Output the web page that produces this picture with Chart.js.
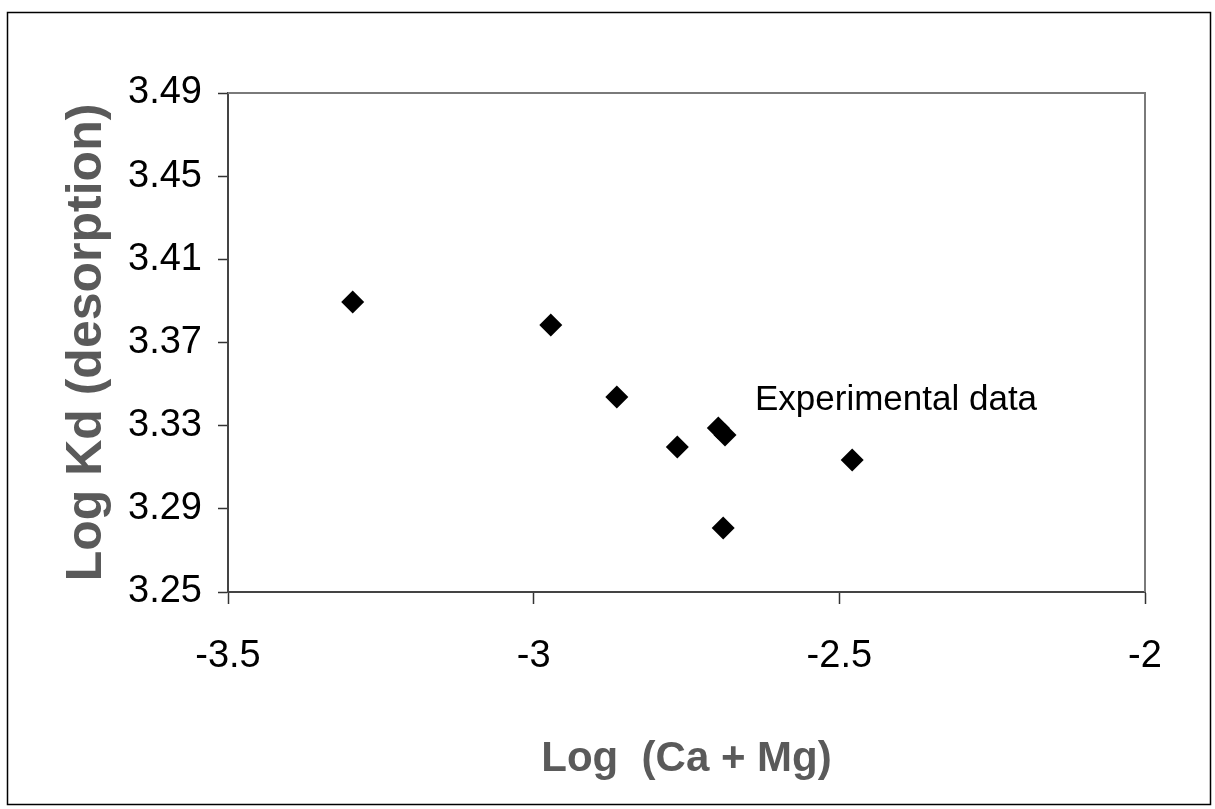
<!DOCTYPE html>
<html>
<head>
<meta charset="utf-8">
<script src="https://cdn.jsdelivr.net/npm/chart.js@4/dist/chart.umd.min.js"></script>
<style>
  html, body { margin: 0; padding: 0; background: #fff; }
  #wrap { width: 1215px; height: 809px; }
</style>
</head>
<body>
<div id="wrap"><canvas id="kdChart" width="1215" height="809"></canvas></div>
<script>
/* --------------- Data --------------------- */
const logCaMg = [-3.296, -2.972, -2.864, -2.765, -2.698, -2.687, -2.690, -2.479];
const logKd = [3.3895, 3.3784, 3.3438, 3.3197, 3.3289, 3.3255, 3.2808, 3.3135];

/* --------------- Axes / ticks --------------------- */
const xTicks = [-3.5, -3, -2.5, -2];
const yTicks = [3.25, 3.29, 3.33, 3.37, 3.41, 3.45, 3.49];
const xTitle = "Log  (Ca + Mg)";
const yTitle = "Log Kd (desorption)";
const noteText = "Experimental data";
const notePos = { x: -2.638, y: 3.342 };

const titleGray = "#5a5a5a";

// outer frame + top/right edge of plot + the note
const framePlugin = {
  id: "frame",
  beforeDraw(chart) {
    const ctx = chart.ctx;
    ctx.save();
    ctx.fillStyle = "#fff";
    ctx.fillRect(0, 0, chart.width, chart.height);
    ctx.strokeStyle = "#000";
    ctx.lineWidth = 1.5;
    ctx.strokeRect(7.5, 12.5, 1203, 792);
    ctx.restore();
  },
  afterDraw(chart) {
    const ctx = chart.ctx;
    const a = chart.chartArea;
    ctx.save();
    ctx.strokeStyle = "#7a7a7a";
    ctx.lineWidth = 2;
    ctx.beginPath();
    ctx.moveTo(a.left, a.top);
    ctx.lineTo(a.right, a.top);
    ctx.lineTo(a.right, a.bottom);
    ctx.stroke();
    // label next to the points
    const px = chart.scales.x.getPixelForValue(notePos.x);
    const py = chart.scales.y.getPixelForValue(notePos.y);
    ctx.fillStyle = "#000";
    ctx.font = "35px 'Liberation Sans', Arial, sans-serif";
    ctx.textAlign = "left";
    ctx.textBaseline = "middle";
    ctx.fillText(noteText, px, py);
    ctx.restore();
  },
};

/* --------------- Chart --------------------- */
const kdChart = new Chart(document.getElementById("kdChart"), {
  type: "scatter",
  plugins: [framePlugin],
  data: {
    datasets: [
      {
        data: logCaMg.map((x, i) => ({ x: x, y: logKd[i] })),
        pointStyle: "rectRot",
        pointRadius: 11.5,
        backgroundColor: "#000",
        borderColor: "#000",
        borderWidth: 0,
      },
    ],
  },
  options: {
    responsive: false,
    animation: false,
    layout: { padding: { top: 93, right: 70, left: 0, bottom: 0 } },
    plugins: { legend: { display: false }, tooltip: { enabled: false } },
    scales: {
      x: {
        type: "linear",
        min: -3.5,
        max: -2,
        afterBuildTicks: (s) => { s.ticks = xTicks.map((v) => ({ value: v })); },
        afterFit: (s) => { s.height = 809 - 592; },
        border: { display: true, color: "#444", width: 2 },
        grid: { drawOnChartArea: false, tickLength: 12, tickColor: "#333", tickWidth: 1.5 },
        ticks: {
          color: "#000",
          padding: 30,
          maxRotation: 0,
          font: { family: "'Liberation Sans', Arial, sans-serif", size: 38 },
          callback: (v) => String(v),
        },
        title: {
          display: true,
          text: xTitle,
          color: titleGray,
          padding: { top: 0, bottom: 24 },
          font: { family: "'Liberation Sans', Arial, sans-serif", size: 42, weight: "bold" },
        },
      },
      y: {
        type: "linear",
        min: 3.25,
        max: 3.49,
        afterBuildTicks: (s) => { s.ticks = yTicks.map((v) => ({ value: v })); },
        afterFit: (s) => { s.width = 228; },
        border: { display: true, color: "#444", width: 2 },
        grid: { drawOnChartArea: false, tickLength: 10, tickColor: "#333", tickWidth: 1.5 },
        ticks: {
          color: "#000",
          padding: 16,
          font: { family: "'Liberation Sans', Arial, sans-serif", size: 38 },
          callback: (v) => Number(v).toFixed(2),
        },
        title: {
          display: true,
          text: yTitle,
          color: titleGray,
          padding: { top: 57, bottom: 0 },
          font: { family: "'Liberation Sans', Arial, sans-serif", size: 50, weight: "bold" },
        },
      },
    },
  },
});
</script>
</body>
</html>
